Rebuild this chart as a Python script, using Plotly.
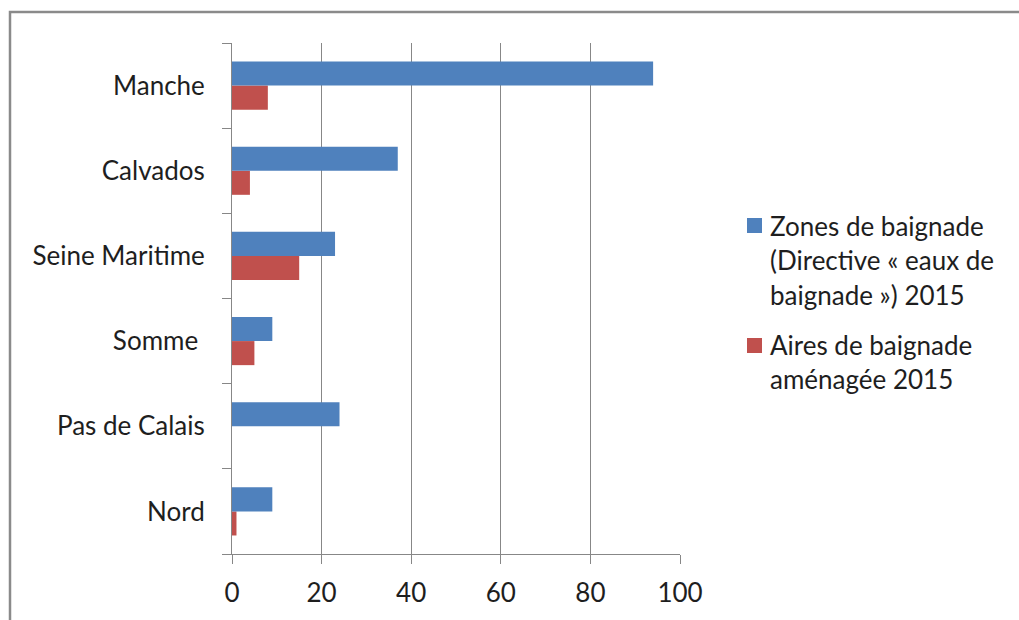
import plotly.graph_objects as go

# Départements (bottom to top) and counts per series
categories = ["Nord", "Pas de Calais", "Somme\u00a0", "Seine Maritime", "Calvados", "Manche"]
zones_baignade = [9, 24, 9, 23, 37, 94]
aires_amenagees = [1, 0, 5, 15, 4, 8]
x_ticks = [0, 20, 40, 60, 80, 100]

legend_lines = [
    ["Zones de baignade", "(Directive « eaux de", "baignade ») 2015"],
    ["Aires de baignade", "aménagée 2015"],
]

BLUE = "#4F81BD"
RED = "#C0504D"
GREY = "#878787"
FONT = dict(family="Lato, 'Open Sans', sans-serif", size=26, color="#1e1e1e")

W, H = 1019, 620
L, R, T, B = 232, 680, 43, 554  # plot area in pixels


def px(x):
    return (x - L) / (R - L)


def py(y):
    return (B - y) / (B - T)


fig = go.Figure()
# Red first so that the blue bar sits on top within each group
fig.add_trace(go.Bar(y=categories, x=aires_amenagees, orientation="h", name="Aires de baignade aménagée 2015",
                     marker=dict(color=RED, line=dict(width=0))))
fig.add_trace(go.Bar(y=categories, x=zones_baignade, orientation="h", name="Zones de baignade (Directive « eaux de baignade ») 2015",
                     marker=dict(color=BLUE, line=dict(width=0))))

shapes = [
    # outer chart frame
    dict(type="rect", xref="paper", yref="paper", x0=px(10), x1=px(1040), y0=py(640), y1=py(12),
         line=dict(color="#8a8a8a", width=2.5), fillcolor="rgba(0,0,0,0)", layer="below"),
]
annotations = []

# legend: colour square + wrapped text lines
legend_items = [(BLUE, 225.5, [226, 260, 295]), (RED, 345.5, [345, 379])]
for (color, sq_y, line_ys), lines in zip(legend_items, legend_lines):
    shapes.append(dict(type="rect", xref="paper", yref="paper", x0=px(747), x1=px(762),
                       y0=py(sq_y + 7.5), y1=py(sq_y - 7.5), line=dict(width=0), fillcolor=color))
    for text, ly in zip(lines, line_ys):
        annotations.append(dict(text=text, xref="paper", yref="paper", x=px(768), y=py(ly),
                                xanchor="left", yanchor="middle", showarrow=False, font=FONT))

fig.update_layout(
    width=W, height=H,
    margin=dict(l=L, r=W - R, t=T, b=H - B, pad=0),
    paper_bgcolor="white", plot_bgcolor="white",
    barmode="group", bargap=0.435, bargroupgap=0,
    showlegend=False,
    font=FONT,
    shapes=shapes,
    annotations=annotations,
    xaxis=dict(range=[0, 100], tickvals=x_ticks, showgrid=True, gridcolor=GREY, gridwidth=1,
               zeroline=False, showline=True, linecolor=GREY, linewidth=1,
               ticks="outside", ticklen=9, tickcolor=GREY, tickfont=FONT, ticklabelstandoff=7),
    yaxis=dict(categoryorder="array", categoryarray=categories, showgrid=False, zeroline=False,
               showline=True, linecolor=GREY, linewidth=1, ticks="outside", tickson="boundaries",
               ticklen=9, tickcolor=GREY, tickfont=FONT, ticklabelstandoff=21),
)

fig.write_html("out.html")
